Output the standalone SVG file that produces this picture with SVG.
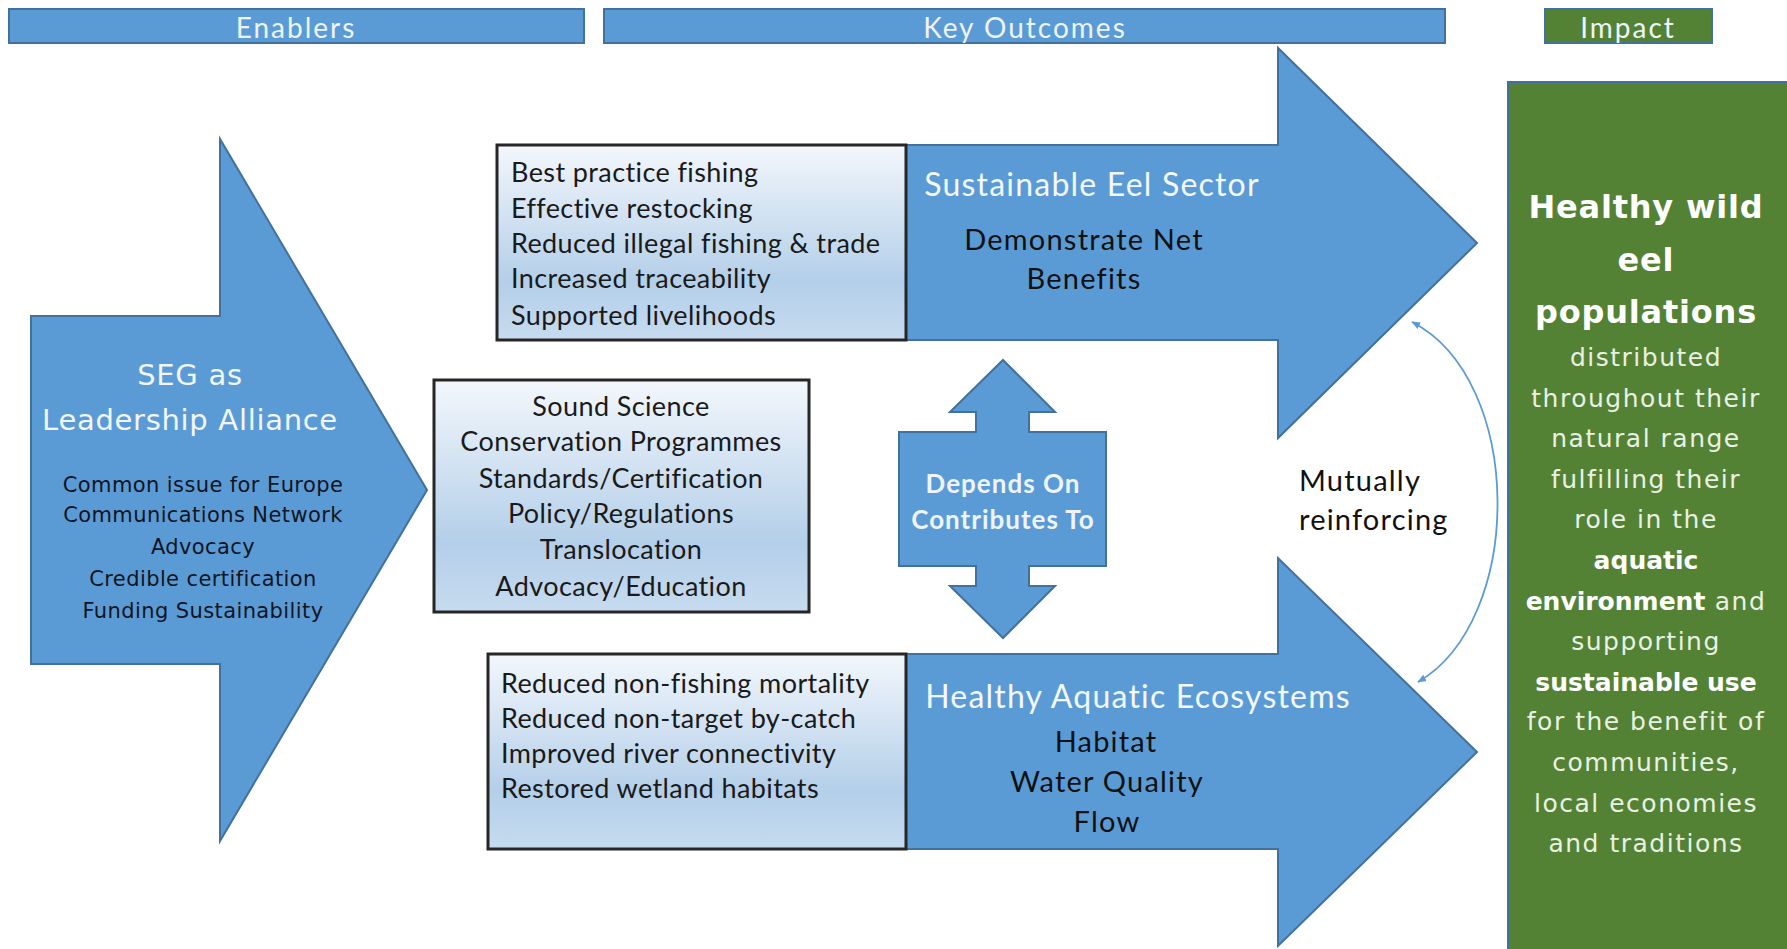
<svg xmlns="http://www.w3.org/2000/svg" width="1787" height="949" viewBox="0 0 1787 949">
<style>
.hdr{fill:#5B9BD5;stroke:#41719C;stroke-width:2}
.arrow{fill:#5B9BD5;stroke:#41719C;stroke-width:2}
.box{fill:url(#boxg);stroke:#262626;stroke-width:3}
.green{fill:#548235;stroke:#41719C;stroke-width:2}
.ht{font-family:Lato,"Liberation Sans",sans-serif;font-size:28px;fill:#eef3fa;text-anchor:middle;letter-spacing:2px}
.bt{font-family:Lato,"Liberation Sans",sans-serif;font-size:27px;fill:#1a1a1a;letter-spacing:0.4px}
.c{text-anchor:middle}
.wt{font-family:Lato,"Liberation Sans",sans-serif;font-size:32px;fill:#f4f8fc;letter-spacing:1.2px}
.dk{font-family:Lato,"Liberation Sans",sans-serif;font-size:29px;fill:#111;letter-spacing:1.2px}
.vs{font-family:"DejaVu Sans",Verdana,sans-serif}
.gt{font-family:"DejaVu Sans",Verdana,sans-serif;font-size:25px;fill:#e9f1e4;text-anchor:middle;letter-spacing:1.5px}
.gb{font-weight:bold;fill:#ffffff;letter-spacing:0px}
.gh{font-weight:bold;fill:#ffffff;font-size:32px;letter-spacing:0.8px}
</style>
<defs>
<linearGradient id="boxg" x1="0" y1="0" x2="0" y2="1">
<stop offset="0" stop-color="#f3f7fc"/>
<stop offset="0.7" stop-color="#b4cfe9"/>
<stop offset="1" stop-color="#c6dbef"/>
</linearGradient>
<marker id="ah" viewBox="0 0 10 10" refX="9" refY="5" markerWidth="9" markerHeight="9" orient="auto-start-reverse" markerUnits="userSpaceOnUse">
<path d="M0,1 L10,5 L0,9 Z" fill="#5B9BD5"/>
</marker>
</defs>
<rect width="1787" height="949" fill="#ffffff"/>

<g id="header-enablers">
<rect class="hdr" x="9" y="9" width="575" height="34"/>
<text class="ht" x="296" y="38">Enablers</text>
</g>
<g id="header-outcomes">
<rect class="hdr" x="604" y="9" width="841" height="34"/>
<text class="ht" x="1025" y="38">Key Outcomes</text>
</g>
<g id="header-impact">
<rect class="hdr" x="1545" y="9" width="167" height="34" style="fill:#548235"/>
<text class="ht" x="1628" y="38">Impact</text>
</g>

<g id="seg-arrow">
<polygon class="arrow" points="31,316 220,316 220,139 427,490 220,841 220,664 31,664"/>
<text class="vs" x="190" y="385" font-size="29" fill="#f2f6fb" text-anchor="middle" letter-spacing="0.7">SEG as</text>
<text class="vs" x="190" y="430" font-size="29" fill="#f2f6fb" text-anchor="middle" letter-spacing="0.7">Leadership Alliance</text>
<g class="vs" font-size="21" fill="#121522" text-anchor="middle" letter-spacing="0.4">
<text x="203" y="492">Common issue for Europe</text>
<text x="203" y="522">Communications Network</text>
<text x="203" y="554">Advocacy</text>
<text x="203" y="586">Credible certification</text>
<text x="203" y="618">Funding Sustainability</text>
</g>
</g>

<g id="eel-sector-arrow">
<polygon class="arrow" points="906,145 1278,145 1278,48 1477,243 1278,438 1278,340 906,340"/>
<text class="wt c" x="1092" y="196">Sustainable Eel Sector</text>
<text class="dk c" x="1084" y="250">Demonstrate Net</text>
<text class="dk c" x="1084" y="289">Benefits</text>
</g>
<g id="eel-sector-box">
<rect class="box" x="497" y="145" width="409" height="195"/>
<text class="bt" x="511" y="182">Best practice fishing</text>
<text class="bt" x="511" y="218">Effective restocking</text>
<text class="bt" x="511" y="253">Reduced illegal fishing &amp; trade</text>
<text class="bt" x="511" y="288">Increased traceability</text>
<text class="bt" x="511" y="325">Supported livelihoods</text>
</g>

<g id="enablers-box">
<rect class="box" x="434" y="380" width="375" height="232"/>
<text class="bt c" x="621" y="416">Sound Science</text>
<text class="bt c" x="621" y="451">Conservation Programmes</text>
<text class="bt c" x="621" y="488">Standards/Certification</text>
<text class="bt c" x="621" y="523">Policy/Regulations</text>
<text class="bt c" x="621" y="559">Translocation</text>
<text class="bt c" x="621" y="596">Advocacy/Education</text>
</g>

<g id="depends-arrow">
<polygon class="arrow" points="1003,360 1055,412 1029,412 1029,432 1106,432 1106,566 1029,566 1029,586 1055,586 1003,638 950,586 976,586 976,566 899,566 899,432 976,432 976,412 950,412"/>
<text x="1003" y="493" font-family="Lato,'Liberation Sans',sans-serif" font-size="26" font-weight="bold" fill="#eef4fb" text-anchor="middle" letter-spacing="1">Depends On</text>
<text x="1003" y="529" font-family="Lato,'Liberation Sans',sans-serif" font-size="26" font-weight="bold" fill="#eef4fb" text-anchor="middle" letter-spacing="1">Contributes To</text>
</g>

<g id="ecosystems-arrow">
<polygon class="arrow" points="906,654 1278,654 1278,558 1477,752 1278,946 1278,849 906,849"/>
<text class="wt c" x="1138" y="708">Healthy Aquatic Ecosystems</text>
<text class="dk c" x="1106" y="752">Habitat</text>
<text class="dk c" x="1107" y="792">Water Quality</text>
<text class="dk c" x="1107" y="832">Flow</text>
</g>
<g id="ecosystems-box">
<rect class="box" x="488" y="654" width="418" height="195"/>
<text class="bt" x="501" y="693">Reduced non-fishing mortality</text>
<text class="bt" x="501" y="728">Reduced non-target by-catch</text>
<text class="bt" x="501" y="763">Improved river connectivity</text>
<text class="bt" x="501" y="798">Restored wetland habitats</text>
</g>

<g id="mutual-label">
<text class="dk" x="1299" y="491">Mutually</text>
<text class="dk" x="1299" y="530">reinforcing</text>
</g>

<g id="connectors">
<path d="M1412,322 C1525,380 1525,620 1418,682" fill="none" stroke="#5B9BD5" stroke-width="1.8" marker-start="url(#ah)" marker-end="url(#ah)"/>
</g>

<g id="impact-box">
<rect class="green" x="1508" y="82" width="280" height="870"/>
<text class="gt gh" x="1646" y="218">Healthy wild</text>
<text class="gt gh" x="1646" y="271">eel</text>
<text class="gt gh" x="1646" y="323">populations</text>
<text class="gt" x="1646" y="366">distributed</text>
<text class="gt" x="1646" y="407">throughout their</text>
<text class="gt" x="1646" y="447">natural range</text>
<text class="gt" x="1646" y="488">fulfilling their</text>
<text class="gt" x="1646" y="528">role in the</text>
<text class="gt gb" x="1646" y="569">aquatic</text>
<text class="gt" x="1646" y="610"><tspan class="gb">environment</tspan> and</text>
<text class="gt" x="1646" y="650">supporting</text>
<text class="gt gb" x="1646" y="691">sustainable use</text>
<text class="gt" x="1646" y="730">for the benefit of</text>
<text class="gt" x="1646" y="771">communities,</text>
<text class="gt" x="1646" y="812">local economies</text>
<text class="gt" x="1646" y="852">and traditions</text>
</g>
</svg>
